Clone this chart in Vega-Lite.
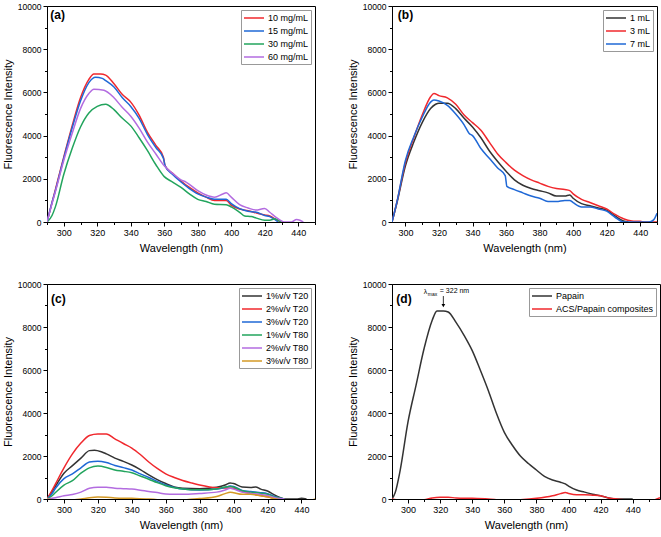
{
"$schema": "https://vega.github.io/schema/vega-lite/v6.json",
"padding": {"left": 1, "top": 1, "right": 2, "bottom": 2},
"config": {
  "font": "Liberation Sans",
  "view": {"stroke": "#000", "strokeWidth": 1},
  "axis": {"grid": false, "domainColor": "#000", "tickColor": "#000", "labelColor": "#000", "titleColor": "#000", "titleFontWeight": "normal", "titleFontSize": 11, "labelFontSize": 9, "tickWidth": 1, "domainWidth": 1, "labelOverlap": false},
  "axisX": {"labelPadding": 2, "titlePadding": 5},
  "axisY": {"labelPadding": 2, "titlePadding": 4, "labelFontSize": 8.5},
  "legend": {"orient": "top-right", "offset": 4, "padding": 2, "strokeColor": "#999", "fillColor": "#fff", "labelFontSize": 9, "labelColor": "#000", "symbolType": "M-1,0L3,0", "symbolSize": 100, "symbolStrokeWidth": 1.5, "labelOffset": 13, "rowPadding": 2, "cornerRadius": 0}
},
"datasets": {
  "a": [
    {"s":"10 mg/mL","x":290,"y":0},{"s":"10 mg/mL","x":293,"y":900},{"s":"10 mg/mL","x":295,"y":1500},{"s":"10 mg/mL","x":300,"y":3000},{"s":"10 mg/mL","x":305,"y":4450},{"s":"10 mg/mL","x":310,"y":5750},{"s":"10 mg/mL","x":315,"y":6600},{"s":"10 mg/mL","x":318,"y":6850},{"s":"10 mg/mL","x":322,"y":6850},{"s":"10 mg/mL","x":325,"y":6800},{"s":"10 mg/mL","x":330,"y":6400},{"s":"10 mg/mL","x":335,"y":5900},{"s":"10 mg/mL","x":340,"y":5550},{"s":"10 mg/mL","x":345,"y":4950},{"s":"10 mg/mL","x":350,"y":4150},{"s":"10 mg/mL","x":355,"y":3550},{"s":"10 mg/mL","x":359.5,"y":3000},{"s":"10 mg/mL","x":360.5,"y":2600},{"s":"10 mg/mL","x":365,"y":2250},{"s":"10 mg/mL","x":370,"y":1900},{"s":"10 mg/mL","x":375,"y":1600},{"s":"10 mg/mL","x":380,"y":1350},{"s":"10 mg/mL","x":385,"y":1150},{"s":"10 mg/mL","x":390,"y":1000},{"s":"10 mg/mL","x":393,"y":1000},{"s":"10 mg/mL","x":397,"y":1000},{"s":"10 mg/mL","x":400,"y":780},{"s":"10 mg/mL","x":405,"y":600},{"s":"10 mg/mL","x":410,"y":520},{"s":"10 mg/mL","x":415,"y":420},{"s":"10 mg/mL","x":420,"y":320},{"s":"10 mg/mL","x":423,"y":280},{"s":"10 mg/mL","x":427,"y":100},{"s":"10 mg/mL","x":430,"y":0},
    {"s":"15 mg/mL","x":290,"y":0},{"s":"15 mg/mL","x":293,"y":900},{"s":"15 mg/mL","x":295,"y":1450},{"s":"15 mg/mL","x":300,"y":2950},{"s":"15 mg/mL","x":305,"y":4350},{"s":"15 mg/mL","x":310,"y":5600},{"s":"15 mg/mL","x":315,"y":6450},{"s":"15 mg/mL","x":319,"y":6700},{"s":"15 mg/mL","x":323,"y":6650},{"s":"15 mg/mL","x":325,"y":6550},{"s":"15 mg/mL","x":330,"y":6250},{"s":"15 mg/mL","x":335,"y":5750},{"s":"15 mg/mL","x":340,"y":5350},{"s":"15 mg/mL","x":345,"y":4800},{"s":"15 mg/mL","x":350,"y":4050},{"s":"15 mg/mL","x":355,"y":3450},{"s":"15 mg/mL","x":359.5,"y":2950},{"s":"15 mg/mL","x":360.5,"y":2600},{"s":"15 mg/mL","x":365,"y":2200},{"s":"15 mg/mL","x":370,"y":1850},{"s":"15 mg/mL","x":375,"y":1550},{"s":"15 mg/mL","x":380,"y":1300},{"s":"15 mg/mL","x":385,"y":1150},{"s":"15 mg/mL","x":390,"y":1050},{"s":"15 mg/mL","x":393,"y":1050},{"s":"15 mg/mL","x":397,"y":1050},{"s":"15 mg/mL","x":400,"y":850},{"s":"15 mg/mL","x":405,"y":620},{"s":"15 mg/mL","x":410,"y":500},{"s":"15 mg/mL","x":415,"y":450},{"s":"15 mg/mL","x":420,"y":300},{"s":"15 mg/mL","x":423,"y":250},{"s":"15 mg/mL","x":428,"y":0},
    {"s":"30 mg/mL","x":290,"y":0},{"s":"30 mg/mL","x":293,"y":300},{"s":"30 mg/mL","x":295,"y":700},{"s":"30 mg/mL","x":300,"y":2200},{"s":"30 mg/mL","x":305,"y":3400},{"s":"30 mg/mL","x":310,"y":4400},{"s":"30 mg/mL","x":315,"y":5050},{"s":"30 mg/mL","x":320,"y":5350},{"s":"30 mg/mL","x":325,"y":5450},{"s":"30 mg/mL","x":330,"y":5200},{"s":"30 mg/mL","x":335,"y":4800},{"s":"30 mg/mL","x":340,"y":4450},{"s":"30 mg/mL","x":345,"y":3900},{"s":"30 mg/mL","x":350,"y":3300},{"s":"30 mg/mL","x":355,"y":2650},{"s":"30 mg/mL","x":360,"y":2100},{"s":"30 mg/mL","x":365,"y":1850},{"s":"30 mg/mL","x":370,"y":1600},{"s":"30 mg/mL","x":375,"y":1300},{"s":"30 mg/mL","x":380,"y":1050},{"s":"30 mg/mL","x":385,"y":950},{"s":"30 mg/mL","x":390,"y":820},{"s":"30 mg/mL","x":397,"y":800},{"s":"30 mg/mL","x":400,"y":700},{"s":"30 mg/mL","x":405,"y":450},{"s":"30 mg/mL","x":408,"y":280},{"s":"30 mg/mL","x":412,"y":250},{"s":"30 mg/mL","x":415,"y":180},{"s":"30 mg/mL","x":420,"y":80},{"s":"30 mg/mL","x":423,"y":80},{"s":"30 mg/mL","x":426,"y":150},{"s":"30 mg/mL","x":428,"y":80},{"s":"30 mg/mL","x":430,"y":0},
    {"s":"60 mg/mL","x":290,"y":0},{"s":"60 mg/mL","x":293,"y":850},{"s":"60 mg/mL","x":295,"y":1400},{"s":"60 mg/mL","x":300,"y":2850},{"s":"60 mg/mL","x":305,"y":4100},{"s":"60 mg/mL","x":310,"y":5250},{"s":"60 mg/mL","x":315,"y":5950},{"s":"60 mg/mL","x":318,"y":6150},{"s":"60 mg/mL","x":324,"y":6100},{"s":"60 mg/mL","x":330,"y":5750},{"s":"60 mg/mL","x":335,"y":5300},{"s":"60 mg/mL","x":340,"y":4900},{"s":"60 mg/mL","x":345,"y":4350},{"s":"60 mg/mL","x":350,"y":3700},{"s":"60 mg/mL","x":355,"y":3150},{"s":"60 mg/mL","x":360,"y":2600},{"s":"60 mg/mL","x":365,"y":2250},{"s":"60 mg/mL","x":370,"y":1950},{"s":"60 mg/mL","x":373,"y":1850},{"s":"60 mg/mL","x":380,"y":1450},{"s":"60 mg/mL","x":385,"y":1250},{"s":"60 mg/mL","x":390,"y":1150},{"s":"60 mg/mL","x":395,"y":1300},{"s":"60 mg/mL","x":397,"y":1350},{"s":"60 mg/mL","x":400,"y":1150},{"s":"60 mg/mL","x":405,"y":800},{"s":"60 mg/mL","x":410,"y":650},{"s":"60 mg/mL","x":415,"y":550},{"s":"60 mg/mL","x":418,"y":600},{"s":"60 mg/mL","x":420,"y":630},{"s":"60 mg/mL","x":423,"y":450},{"s":"60 mg/mL","x":427,"y":200},{"s":"60 mg/mL","x":430,"y":50},{"s":"60 mg/mL","x":432,"y":0},{"s":"60 mg/mL","x":436,"y":0},{"s":"60 mg/mL","x":439,"y":120},{"s":"60 mg/mL","x":441,"y":80},{"s":"60 mg/mL","x":443,"y":0}
  ],
  "b": [
    {"s":"1 mL","x":292,"y":0},{"s":"1 mL","x":295,"y":900},{"s":"1 mL","x":300,"y":2600},{"s":"1 mL","x":305,"y":3700},{"s":"1 mL","x":310,"y":4600},{"s":"1 mL","x":315,"y":5250},{"s":"1 mL","x":318,"y":5450},{"s":"1 mL","x":320,"y":5500},{"s":"1 mL","x":325,"y":5500},{"s":"1 mL","x":330,"y":5250},{"s":"1 mL","x":335,"y":4800},{"s":"1 mL","x":340,"y":4400},{"s":"1 mL","x":345,"y":3900},{"s":"1 mL","x":350,"y":3300},{"s":"1 mL","x":355,"y":2800},{"s":"1 mL","x":360,"y":2350},{"s":"1 mL","x":365,"y":1950},{"s":"1 mL","x":370,"y":1700},{"s":"1 mL","x":375,"y":1550},{"s":"1 mL","x":380,"y":1450},{"s":"1 mL","x":385,"y":1350},{"s":"1 mL","x":390,"y":1200},{"s":"1 mL","x":395,"y":1200},{"s":"1 mL","x":398,"y":1250},{"s":"1 mL","x":400,"y":1100},{"s":"1 mL","x":405,"y":850},{"s":"1 mL","x":410,"y":750},{"s":"1 mL","x":415,"y":650},{"s":"1 mL","x":420,"y":550},{"s":"1 mL","x":425,"y":280},{"s":"1 mL","x":430,"y":50},{"s":"1 mL","x":433,"y":0},
    {"s":"3 mL","x":292,"y":0},{"s":"3 mL","x":295,"y":950},{"s":"3 mL","x":300,"y":2750},{"s":"3 mL","x":305,"y":3900},{"s":"3 mL","x":310,"y":4950},{"s":"3 mL","x":315,"y":5800},{"s":"3 mL","x":317,"y":5950},{"s":"3 mL","x":320,"y":5850},{"s":"3 mL","x":325,"y":5750},{"s":"3 mL","x":330,"y":5450},{"s":"3 mL","x":335,"y":4950},{"s":"3 mL","x":340,"y":4600},{"s":"3 mL","x":345,"y":4250},{"s":"3 mL","x":350,"y":3700},{"s":"3 mL","x":355,"y":3150},{"s":"3 mL","x":360,"y":2750},{"s":"3 mL","x":365,"y":2400},{"s":"3 mL","x":370,"y":2150},{"s":"3 mL","x":375,"y":1950},{"s":"3 mL","x":380,"y":1800},{"s":"3 mL","x":385,"y":1650},{"s":"3 mL","x":390,"y":1550},{"s":"3 mL","x":395,"y":1500},{"s":"3 mL","x":398,"y":1450},{"s":"3 mL","x":400,"y":1300},{"s":"3 mL","x":405,"y":1050},{"s":"3 mL","x":410,"y":900},{"s":"3 mL","x":415,"y":750},{"s":"3 mL","x":420,"y":600},{"s":"3 mL","x":425,"y":350},{"s":"3 mL","x":430,"y":150},{"s":"3 mL","x":435,"y":50},{"s":"3 mL","x":440,"y":30},{"s":"3 mL","x":443,"y":0},{"s":"3 mL","x":450,"y":0},
    {"s":"7 mL","x":292,"y":0},{"s":"7 mL","x":295,"y":950},{"s":"7 mL","x":300,"y":2850},{"s":"7 mL","x":305,"y":3950},{"s":"7 mL","x":310,"y":4850},{"s":"7 mL","x":315,"y":5550},{"s":"7 mL","x":317,"y":5650},{"s":"7 mL","x":320,"y":5600},{"s":"7 mL","x":325,"y":5400},{"s":"7 mL","x":330,"y":5000},{"s":"7 mL","x":335,"y":4500},{"s":"7 mL","x":338,"y":4100},{"s":"7 mL","x":340,"y":4000},{"s":"7 mL","x":345,"y":3400},{"s":"7 mL","x":350,"y":2950},{"s":"7 mL","x":355,"y":2500},{"s":"7 mL","x":359.5,"y":2150},{"s":"7 mL","x":360.5,"y":1650},{"s":"7 mL","x":365,"y":1500},{"s":"7 mL","x":370,"y":1350},{"s":"7 mL","x":375,"y":1200},{"s":"7 mL","x":380,"y":1100},{"s":"7 mL","x":385,"y":950},{"s":"7 mL","x":390,"y":950},{"s":"7 mL","x":395,"y":1000},{"s":"7 mL","x":398,"y":1000},{"s":"7 mL","x":400,"y":900},{"s":"7 mL","x":405,"y":700},{"s":"7 mL","x":410,"y":700},{"s":"7 mL","x":415,"y":600},{"s":"7 mL","x":420,"y":500},{"s":"7 mL","x":425,"y":220},{"s":"7 mL","x":430,"y":0},{"s":"7 mL","x":445,"y":0},{"s":"7 mL","x":448,"y":100},{"s":"7 mL","x":450,"y":400}
  ],
  "c": [
    {"s":"1%v/v T20","x":290,"y":0},{"s":"1%v/v T20","x":293,"y":350},{"s":"1%v/v T20","x":295,"y":600},{"s":"1%v/v T20","x":300,"y":1200},{"s":"1%v/v T20","x":305,"y":1550},{"s":"1%v/v T20","x":310,"y":1900},{"s":"1%v/v T20","x":315,"y":2250},{"s":"1%v/v T20","x":318,"y":2270},{"s":"1%v/v T20","x":322,"y":2200},{"s":"1%v/v T20","x":325,"y":2100},{"s":"1%v/v T20","x":330,"y":1900},{"s":"1%v/v T20","x":335,"y":1750},{"s":"1%v/v T20","x":340,"y":1580},{"s":"1%v/v T20","x":345,"y":1370},{"s":"1%v/v T20","x":350,"y":1120},{"s":"1%v/v T20","x":355,"y":900},{"s":"1%v/v T20","x":360,"y":720},{"s":"1%v/v T20","x":365,"y":560},{"s":"1%v/v T20","x":370,"y":500},{"s":"1%v/v T20","x":380,"y":480},{"s":"1%v/v T20","x":390,"y":550},{"s":"1%v/v T20","x":395,"y":650},{"s":"1%v/v T20","x":398,"y":750},{"s":"1%v/v T20","x":400,"y":720},{"s":"1%v/v T20","x":405,"y":560},{"s":"1%v/v T20","x":410,"y":540},{"s":"1%v/v T20","x":413,"y":560},{"s":"1%v/v T20","x":416,"y":460},{"s":"1%v/v T20","x":420,"y":370},{"s":"1%v/v T20","x":425,"y":150},{"s":"1%v/v T20","x":430,"y":0},{"s":"1%v/v T20","x":437,"y":0},{"s":"1%v/v T20","x":440,"y":30},{"s":"1%v/v T20","x":443,"y":0},
    {"s":"2%v/v T20","x":290,"y":0},{"s":"2%v/v T20","x":293,"y":400},{"s":"2%v/v T20","x":295,"y":700},{"s":"2%v/v T20","x":300,"y":1450},{"s":"2%v/v T20","x":305,"y":2100},{"s":"2%v/v T20","x":310,"y":2600},{"s":"2%v/v T20","x":315,"y":2950},{"s":"2%v/v T20","x":320,"y":3020},{"s":"2%v/v T20","x":325,"y":3020},{"s":"2%v/v T20","x":330,"y":2800},{"s":"2%v/v T20","x":335,"y":2580},{"s":"2%v/v T20","x":340,"y":2370},{"s":"2%v/v T20","x":345,"y":2070},{"s":"2%v/v T20","x":350,"y":1720},{"s":"2%v/v T20","x":355,"y":1420},{"s":"2%v/v T20","x":360,"y":1170},{"s":"2%v/v T20","x":365,"y":1000},{"s":"2%v/v T20","x":370,"y":860},{"s":"2%v/v T20","x":375,"y":750},{"s":"2%v/v T20","x":380,"y":650},{"s":"2%v/v T20","x":390,"y":520},{"s":"2%v/v T20","x":395,"y":510},{"s":"2%v/v T20","x":400,"y":500},{"s":"2%v/v T20","x":405,"y":350},{"s":"2%v/v T20","x":410,"y":260},{"s":"2%v/v T20","x":415,"y":170},{"s":"2%v/v T20","x":420,"y":100},{"s":"2%v/v T20","x":425,"y":0},
    {"s":"3%v/v T20","x":290,"y":0},{"s":"3%v/v T20","x":293,"y":250},{"s":"3%v/v T20","x":295,"y":500},{"s":"3%v/v T20","x":300,"y":950},{"s":"3%v/v T20","x":305,"y":1170},{"s":"3%v/v T20","x":310,"y":1450},{"s":"3%v/v T20","x":315,"y":1720},{"s":"3%v/v T20","x":320,"y":1760},{"s":"3%v/v T20","x":325,"y":1700},{"s":"3%v/v T20","x":330,"y":1560},{"s":"3%v/v T20","x":335,"y":1460},{"s":"3%v/v T20","x":340,"y":1350},{"s":"3%v/v T20","x":345,"y":1170},{"s":"3%v/v T20","x":350,"y":1000},{"s":"3%v/v T20","x":355,"y":820},{"s":"3%v/v T20","x":360,"y":650},{"s":"3%v/v T20","x":365,"y":540},{"s":"3%v/v T20","x":370,"y":460},{"s":"3%v/v T20","x":380,"y":420},{"s":"3%v/v T20","x":390,"y":460},{"s":"3%v/v T20","x":395,"y":540},{"s":"3%v/v T20","x":398,"y":600},{"s":"3%v/v T20","x":400,"y":580},{"s":"3%v/v T20","x":405,"y":400},{"s":"3%v/v T20","x":410,"y":350},{"s":"3%v/v T20","x":415,"y":300},{"s":"3%v/v T20","x":420,"y":250},{"s":"3%v/v T20","x":425,"y":100},{"s":"3%v/v T20","x":430,"y":0},
    {"s":"1%v/v T80","x":290,"y":0},{"s":"1%v/v T80","x":293,"y":150},{"s":"1%v/v T80","x":295,"y":300},{"s":"1%v/v T80","x":300,"y":650},{"s":"1%v/v T80","x":305,"y":850},{"s":"1%v/v T80","x":310,"y":1200},{"s":"1%v/v T80","x":315,"y":1450},{"s":"1%v/v T80","x":320,"y":1530},{"s":"1%v/v T80","x":325,"y":1470},{"s":"1%v/v T80","x":330,"y":1350},{"s":"1%v/v T80","x":335,"y":1290},{"s":"1%v/v T80","x":340,"y":1220},{"s":"1%v/v T80","x":345,"y":1070},{"s":"1%v/v T80","x":350,"y":920},{"s":"1%v/v T80","x":355,"y":760},{"s":"1%v/v T80","x":360,"y":620},{"s":"1%v/v T80","x":365,"y":520},{"s":"1%v/v T80","x":370,"y":470},{"s":"1%v/v T80","x":380,"y":430},{"s":"1%v/v T80","x":390,"y":470},{"s":"1%v/v T80","x":395,"y":560},{"s":"1%v/v T80","x":398,"y":580},{"s":"1%v/v T80","x":400,"y":560},{"s":"1%v/v T80","x":405,"y":380},{"s":"1%v/v T80","x":410,"y":320},{"s":"1%v/v T80","x":415,"y":280},{"s":"1%v/v T80","x":420,"y":220},{"s":"1%v/v T80","x":425,"y":80},{"s":"1%v/v T80","x":430,"y":0},
    {"s":"2%v/v T80","x":290,"y":0},{"s":"2%v/v T80","x":295,"y":60},{"s":"2%v/v T80","x":300,"y":150},{"s":"2%v/v T80","x":305,"y":210},{"s":"2%v/v T80","x":310,"y":320},{"s":"2%v/v T80","x":315,"y":500},{"s":"2%v/v T80","x":320,"y":550},{"s":"2%v/v T80","x":325,"y":550},{"s":"2%v/v T80","x":330,"y":500},{"s":"2%v/v T80","x":335,"y":480},{"s":"2%v/v T80","x":340,"y":460},{"s":"2%v/v T80","x":345,"y":410},{"s":"2%v/v T80","x":350,"y":350},{"s":"2%v/v T80","x":355,"y":300},{"s":"2%v/v T80","x":360,"y":230},{"s":"2%v/v T80","x":365,"y":220},{"s":"2%v/v T80","x":370,"y":220},{"s":"2%v/v T80","x":380,"y":260},{"s":"2%v/v T80","x":390,"y":320},{"s":"2%v/v T80","x":395,"y":420},{"s":"2%v/v T80","x":398,"y":500},{"s":"2%v/v T80","x":400,"y":460},{"s":"2%v/v T80","x":405,"y":320},{"s":"2%v/v T80","x":410,"y":260},{"s":"2%v/v T80","x":415,"y":220},{"s":"2%v/v T80","x":420,"y":160},{"s":"2%v/v T80","x":425,"y":50},{"s":"2%v/v T80","x":430,"y":0},
    {"s":"3%v/v T80","x":290,"y":0},{"s":"3%v/v T80","x":295,"y":-40},{"s":"3%v/v T80","x":300,"y":-40},{"s":"3%v/v T80","x":305,"y":-40},{"s":"3%v/v T80","x":310,"y":0},{"s":"3%v/v T80","x":315,"y":60},{"s":"3%v/v T80","x":320,"y":90},{"s":"3%v/v T80","x":325,"y":80},{"s":"3%v/v T80","x":330,"y":50},{"s":"3%v/v T80","x":340,"y":30},{"s":"3%v/v T80","x":350,"y":0},{"s":"3%v/v T80","x":355,"y":-30},{"s":"3%v/v T80","x":360,"y":-80},{"s":"3%v/v T80","x":365,"y":-80},{"s":"3%v/v T80","x":370,"y":-50},{"s":"3%v/v T80","x":380,"y":20},{"s":"3%v/v T80","x":390,"y":120},{"s":"3%v/v T80","x":395,"y":250},{"s":"3%v/v T80","x":398,"y":310},{"s":"3%v/v T80","x":400,"y":290},{"s":"3%v/v T80","x":405,"y":220},{"s":"3%v/v T80","x":410,"y":220},{"s":"3%v/v T80","x":415,"y":160},{"s":"3%v/v T80","x":420,"y":100},{"s":"3%v/v T80","x":425,"y":0},{"s":"3%v/v T80","x":430,"y":-60},{"s":"3%v/v T80","x":440,"y":-80},{"s":"3%v/v T80","x":445,"y":-80},{"s":"3%v/v T80","x":448,"y":0}
  ],
  "d": [
    {"s":"Papain","x":290,"y":0},{"s":"Papain","x":292,"y":300},{"s":"Papain","x":295,"y":1300},{"s":"Papain","x":300,"y":3600},{"s":"Papain","x":305,"y":5300},{"s":"Papain","x":310,"y":7000},{"s":"Papain","x":315,"y":8300},{"s":"Papain","x":318,"y":8750},{"s":"Papain","x":322,"y":8750},{"s":"Papain","x":325,"y":8700},{"s":"Papain","x":330,"y":8200},{"s":"Papain","x":335,"y":7600},{"s":"Papain","x":340,"y":6900},{"s":"Papain","x":345,"y":6000},{"s":"Papain","x":350,"y":5050},{"s":"Papain","x":355,"y":4000},{"s":"Papain","x":360,"y":3100},{"s":"Papain","x":365,"y":2500},{"s":"Papain","x":370,"y":2000},{"s":"Papain","x":375,"y":1650},{"s":"Papain","x":380,"y":1350},{"s":"Papain","x":385,"y":1050},{"s":"Papain","x":390,"y":880},{"s":"Papain","x":395,"y":780},{"s":"Papain","x":398,"y":700},{"s":"Papain","x":400,"y":600},{"s":"Papain","x":405,"y":420},{"s":"Papain","x":410,"y":320},{"s":"Papain","x":415,"y":220},{"s":"Papain","x":420,"y":150},{"s":"Papain","x":425,"y":50},{"s":"Papain","x":430,"y":0},{"s":"Papain","x":440,"y":0},
    {"s":"ACS/Papain composites","x":290,"y":0},{"s":"ACS/Papain composites","x":295,"y":-50},{"s":"ACS/Papain composites","x":300,"y":-50},{"s":"ACS/Papain composites","x":310,"y":-30},{"s":"ACS/Papain composites","x":315,"y":50},{"s":"ACS/Papain composites","x":320,"y":80},{"s":"ACS/Papain composites","x":325,"y":80},{"s":"ACS/Papain composites","x":330,"y":50},{"s":"ACS/Papain composites","x":340,"y":30},{"s":"ACS/Papain composites","x":350,"y":0},{"s":"ACS/Papain composites","x":360,"y":-50},{"s":"ACS/Papain composites","x":370,"y":-30},{"s":"ACS/Papain composites","x":380,"y":30},{"s":"ACS/Papain composites","x":390,"y":150},{"s":"ACS/Papain composites","x":395,"y":250},{"s":"ACS/Papain composites","x":398,"y":300},{"s":"ACS/Papain composites","x":400,"y":260},{"s":"ACS/Papain composites","x":405,"y":200},{"s":"ACS/Papain composites","x":410,"y":200},{"s":"ACS/Papain composites","x":415,"y":180},{"s":"ACS/Papain composites","x":420,"y":150},{"s":"ACS/Papain composites","x":425,"y":50},{"s":"ACS/Papain composites","x":430,"y":0},{"s":"ACS/Papain composites","x":440,"y":-50},{"s":"ACS/Papain composites","x":445,"y":-50},{"s":"ACS/Papain composites","x":450,"y":-100},{"s":"ACS/Papain composites","x":455,"y":0},{"s":"ACS/Papain composites","x":457,"y":60}
  ]
},
"resolve": {"scale": {"color": "independent"}, "legend": {"color": "independent"}},
"spacing": 25,
"vconcat": [
  {"hconcat": [
    {"width": 268, "height": 216, "data": {"name": "a"},
     "encoding": {
        "x": {"field": "x", "type": "quantitative", "scale": {"domain": [290, 450], "nice": false, "zero": false}, "axis": {"title": "Wavelength (nm)", "format": "d", "labelOverlap": false, "values": [290,300,310,320,330,340,350,360,370,380,390,400,410,420,430,440,450], "labelExpr": "datum.value % 20 === 0 ? datum.label : ''", "tickSize": {"condition": {"test": "datum.value % 20 === 0", "value": 4}, "value": 2.5}}},
        "y": {"field": "y", "type": "quantitative", "scale": {"domain": [0, 10000], "nice": false}, "axis": {"title": "Fluorescence Intensity", "format": "d", "labelOverlap": false, "values": [0,1000,2000,3000,4000,5000,6000,7000,8000,9000,10000], "labelExpr": "datum.value % 2000 === 0 ? datum.label : ''", "tickSize": {"condition": {"test": "datum.value % 2000 === 0", "value": 4}, "value": 2.5}}}
     },
     "layer": [
      {"mark": {"type": "line", "strokeWidth": 1.5, "interpolate": "monotone", "clip": true},
       "encoding": {
        "color": {"field": "s", "type": "nominal", "scale": {"domain": ["10 mg/mL","15 mg/mL","30 mg/mL","60 mg/mL"], "range": ["#f0282d","#1f68d6","#22a45d","#b36ce0"]}, "legend": {"title": null}}
       }},
      {"data": {"values": [{"t": "(a)", "x": 292, "y": 9570}]}, "mark": {"type": "text", "fontWeight": "bold", "fontSize": 12, "align": "left", "baseline": "middle", "color": "#000"},
       "encoding": {"text": {"field": "t"}}}
     ]},
    {"width": 265, "height": 216, "data": {"name": "b"},
     "encoding": {
        "x": {"field": "x", "type": "quantitative", "scale": {"domain": [292, 450], "nice": false, "zero": false}, "axis": {"title": "Wavelength (nm)", "format": "d", "labelOverlap": false, "values": [300,310,320,330,340,350,360,370,380,390,400,410,420,430,440,450], "labelExpr": "datum.value % 20 === 0 ? datum.label : ''", "tickSize": {"condition": {"test": "datum.value % 20 === 0", "value": 4}, "value": 2.5}}},
        "y": {"field": "y", "type": "quantitative", "scale": {"domain": [0, 10000], "nice": false}, "axis": {"title": "Fluorescence Intensity", "format": "d", "labelOverlap": false, "values": [0,1000,2000,3000,4000,5000,6000,7000,8000,9000,10000], "labelExpr": "datum.value % 2000 === 0 ? datum.label : ''", "tickSize": {"condition": {"test": "datum.value % 2000 === 0", "value": 4}, "value": 2.5}}}
     },
     "layer": [
      {"mark": {"type": "line", "strokeWidth": 1.5, "interpolate": "monotone", "clip": true},
       "encoding": {
        "color": {"field": "s", "type": "nominal", "scale": {"domain": ["1 mL","3 mL","7 mL"], "range": ["#333333","#f0282d","#1f68d6"]}, "legend": {"title": null}}
       }},
      {"data": {"values": [{"t": "(b)", "x": 295.5, "y": 9570}]}, "mark": {"type": "text", "fontWeight": "bold", "fontSize": 12, "align": "left", "baseline": "middle", "color": "#000"},
       "encoding": {"text": {"field": "t"}}}
     ]}
  ], "spacing": 30, "resolve": {"scale": {"color": "independent"}, "legend": {"color": "independent"}}},
  {"hconcat": [
    {"width": 268, "height": 215, "data": {"name": "c"},
     "encoding": {
        "x": {"field": "x", "type": "quantitative", "scale": {"domain": [290, 448], "nice": false, "zero": false}, "axis": {"title": "Wavelength (nm)", "format": "d", "labelOverlap": false, "values": [290,300,310,320,330,340,350,360,370,380,390,400,410,420,430,440], "labelExpr": "datum.value % 20 === 0 ? datum.label : ''", "tickSize": {"condition": {"test": "datum.value % 20 === 0", "value": 4}, "value": 2.5}}},
        "y": {"field": "y", "type": "quantitative", "scale": {"domain": [0, 10000], "nice": false}, "axis": {"title": "Fluorescence Intensity", "format": "d", "labelOverlap": false, "values": [0,1000,2000,3000,4000,5000,6000,7000,8000,9000,10000], "labelExpr": "datum.value % 2000 === 0 ? datum.label : ''", "tickSize": {"condition": {"test": "datum.value % 2000 === 0", "value": 4}, "value": 2.5}}}
     },
     "layer": [
      {"mark": {"type": "line", "strokeWidth": 1.5, "interpolate": "monotone", "clip": true},
       "encoding": {
        "color": {"field": "s", "type": "nominal", "scale": {"domain": ["1%v/v T20","2%v/v T20","3%v/v T20","1%v/v T80","2%v/v T80","3%v/v T80"], "range": ["#333333","#f0282d","#1f68d6","#22a45d","#b36ce0","#d49a26"]}, "legend": {"title": null}}
       }},
      {"data": {"values": [{"t": "(c)", "x": 292.4, "y": 9300}]}, "mark": {"type": "text", "fontWeight": "bold", "fontSize": 12, "align": "left", "baseline": "middle", "color": "#000"},
       "encoding": {"text": {"field": "t"}}}
     ]},
    {"width": 268, "height": 215, "data": {"name": "d"},
     "encoding": {
        "x": {"field": "x", "type": "quantitative", "scale": {"domain": [290, 457], "nice": false, "zero": false}, "axis": {"title": "Wavelength (nm)", "format": "d", "labelOverlap": false, "values": [290,300,310,320,330,340,350,360,370,380,390,400,410,420,430,440,450], "labelExpr": "datum.value % 20 === 0 ? datum.label : ''", "tickSize": {"condition": {"test": "datum.value % 20 === 0", "value": 4}, "value": 2.5}}},
        "y": {"field": "y", "type": "quantitative", "scale": {"domain": [0, 10000], "nice": false}, "axis": {"title": "Fluorescence Intensity", "format": "d", "labelOverlap": false, "values": [0,1000,2000,3000,4000,5000,6000,7000,8000,9000,10000], "labelExpr": "datum.value % 2000 === 0 ? datum.label : ''", "tickSize": {"condition": {"test": "datum.value % 2000 === 0", "value": 4}, "value": 2.5}}}
     },
     "layer": [
      {"mark": {"type": "line", "strokeWidth": 1.5, "interpolate": "monotone", "clip": true},
       "encoding": {
        "color": {"field": "s", "type": "nominal", "scale": {"domain": ["Papain","ACS/Papain composites"], "range": ["#333333","#f0282d"]}, "legend": {"title": null}}
       }},
      {"data": {"values": [{"t": "(d)", "x": 292.7, "y": 9300}]}, "mark": {"type": "text", "fontWeight": "bold", "fontSize": 12, "align": "left", "baseline": "middle", "color": "#000"},
       "encoding": {"text": {"field": "t"}}},
      {"data": {"values": [{"t": "λ", "x": 309.8, "y": 9640}, {"t": "= 322 nm", "x": 319.8, "y": 9660}]}, "mark": {"type": "text", "fontSize": 7, "align": "left", "baseline": "middle", "color": "#000"},
       "encoding": {"text": {"field": "t"}}},
      {"data": {"values": [{"t": "max", "x": 312.3, "y": 9540}]}, "mark": {"type": "text", "fontSize": 5, "align": "left", "baseline": "middle", "color": "#000"},
       "encoding": {"text": {"field": "t"}}},
      {"data": {"values": [{"x": 322, "y": 9440, "y2": 9000}]}, "mark": {"type": "rule", "color": "#000", "strokeWidth": 0.8},
       "encoding": {"y2": {"field": "y2"}}},
      {"data": {"values": [{"x": 322, "y": 8990}]}, "mark": {"type": "point", "shape": "triangle-down", "filled": true, "color": "#000", "size": 14, "opacity": 1},
       "encoding": {}}
     ]}
  ], "spacing": 30, "resolve": {"scale": {"color": "independent"}, "legend": {"color": "independent"}}}
]
}
